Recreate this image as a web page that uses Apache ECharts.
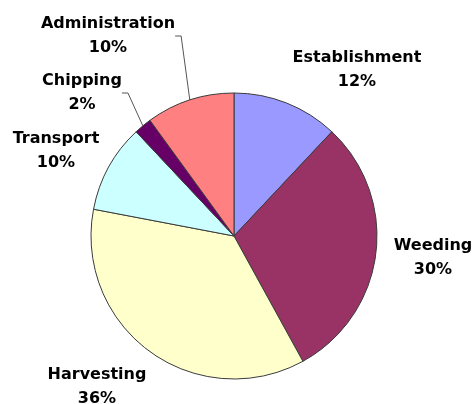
<!DOCTYPE html>
<html>
<head>
<meta charset="utf-8">
<style>html,body{margin:0;padding:0;background:#fff;}#c{width:476px;height:404px;}</style>
<script src="https://cdn.jsdelivr.net/npm/echarts@6/dist/echarts.min.js"></script>
</head>
<body>
<div id="c"></div>
<script>
var categories = ['Establishment', 'Weeding', 'Harvesting', 'Transport', 'Chipping', 'Administration'];
var values = [12, 30, 36, 10, 2, 10];
var colors = ['#9999FF', '#993366', '#FFFFCC', '#CCFFFF', '#660066', '#FF8080'];
var labelPos = [[357, 70], [433, 258], [97, 387], [56, 151], [82, 93], [108, 36]];
var showLine = [false, false, false, false, true, true];

var chart = echarts.init(document.getElementById('c'));
chart.setOption({
  animation: false,
  series: [{
    type: 'pie',
    center: [234, 236],
    radius: 143,
    startAngle: 90,
    clockwise: true,
    avoidLabelOverlap: false,
    itemStyle: { borderColor: '#3a3a3a', borderWidth: 1 },
    label: {
      show: true,
      formatter: function (p) { return p.name + '\n' + Math.round(p.percent) + '%'; },
      fontFamily: 'DejaVu Sans',
      fontWeight: 'bold',
      fontSize: 16,
      lineHeight: 24,
      color: '#000',
      align: 'center'
    },
    labelLine: { show: true, length: 10, length2: 6, lineStyle: { color: '#555', width: 1 } },
    labelLayout: function (p) {
      var pos = labelPos[p.dataIndex];
      return { x: pos[0], y: pos[1], align: 'center', verticalAlign: 'middle' };
    },
    data: categories.map(function (c, i) {
      return { name: c, value: values[i], itemStyle: { color: colors[i] }, labelLine: { show: showLine[i] } };
    })
  }]
});
</script>
</body>
</html>
